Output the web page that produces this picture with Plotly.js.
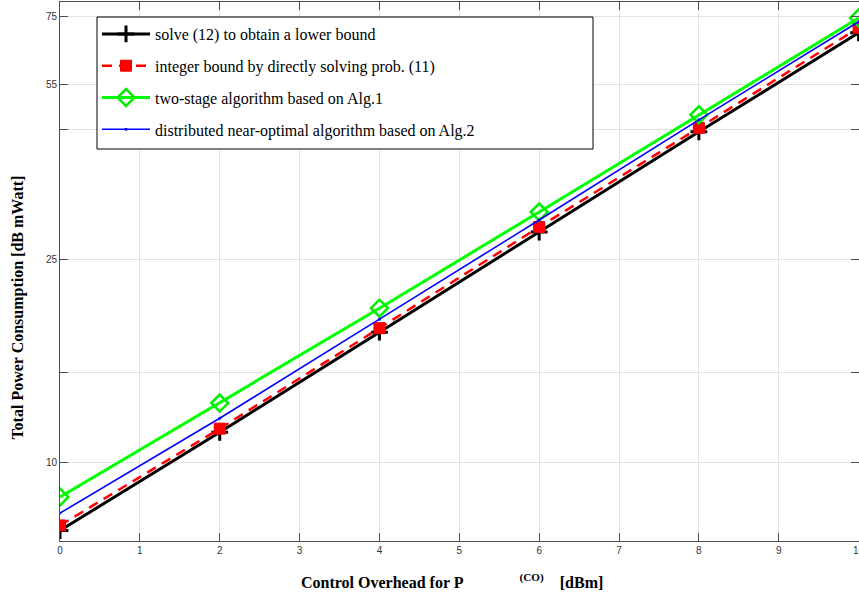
<!DOCTYPE html>
<html>
<head>
<meta charset="utf-8">
<script src="https://cdn.plot.ly/plotly-3.0.1.min.js"></script>
<style>
html,body{margin:0;padding:0;background:#fff;}
#chart{width:859px;height:596px;}
</style>
</head>
<body>
<div id="chart"></div>
<script>
// Data
const overhead = [0, 2, 4, 6, 8, 10];
const lowerBound = [7.34, 11.44, 17.99, 28.29, 44.5, 69.6];
const integerBound = [7.51, 11.63, 18.32, 28.93, 45.3, 71.2];
const twoStage = [8.54, 13.06, 20.05, 30.96, 48.04, 74.4];
const distributed = [7.94, 12.19, 19.08, 29.86, 46.96, 73.17];

const seriesNames = [
  'solve (12) to obtain a lower bound',
  'integer bound by directly solving prob. (11)',
  'two-stage algorithm based on Alg.1',
  'distributed near-optimal algorithm based on Alg.2'
];
const yTickVals = [10, 25, 55, 75];
const yTickText = ['10', '25', '55', '75'];
const yMinorVals = [15, 45];
const xTickVals = [0, 1, 2, 3, 4, 5, 6, 7, 8, 9, 10];

const traces = [
  {
    x: overhead, y: lowerBound, name: seriesNames[0], legendgroup: 'a',
    mode: 'lines+markers',
    line: {color: '#000000', width: 3},
    marker: {symbol: 'cross-thin', size: 12, color: '#000000', line: {color: '#000000', width: 3}}
  },
  {
    x: overhead, y: integerBound, name: seriesNames[1], legendgroup: 'b',
    mode: 'lines+markers',
    line: {color: '#ff0000', width: 2.5, dash: '10px,7px'},
    marker: {symbol: 'square', size: 11, color: '#ff0000', line: {color: '#ee0000', width: 1}}
  },
  {
    x: overhead, y: twoStage, name: seriesNames[2], legendgroup: 'c',
    mode: 'lines+markers',
    line: {color: '#00ff00', width: 3},
    marker: {symbol: 'diamond-open', size: 13, color: '#00ee00', line: {color: '#00ee00', width: 2.5}}
  },
  {
    x: overhead, y: distributed, name: seriesNames[3], legendgroup: 'd',
    mode: 'lines+markers',
    line: {color: '#0000ff', width: 1.6},
    marker: {symbol: 'circle', size: 3, color: '#0000ff'}
  }
];

const axisCommon = {
  showline: true,
  linecolor: '#4d4d4d',
  linewidth: 1,
  mirror: 'ticks',
  ticks: 'inside',
  ticklen: 8,
  tickwidth: 1,
  tickcolor: '#4d4d4d',
  showgrid: true,
  gridcolor: '#e3e3e3',
  gridwidth: 1,
  zeroline: false,
  tickfont: {family: 'Liberation Sans, Arial, sans-serif', size: 10, color: '#333333'}
};

// legend box edges in pixels -> paper fractions
const plotL = 60, plotW = 799, plotB = 541, plotH = 539;

const layout = {
  width: 859,
  height: 596,
  margin: {l: 60, r: 0, t: 2, b: 55},
  paper_bgcolor: '#ffffff',
  plot_bgcolor: '#ffffff',
  showlegend: true,
  xaxis: Object.assign({}, axisCommon, {
    type: 'linear',
    range: [0, 10.005],
    tickvals: xTickVals,
    ticktext: xTickVals.map(String),
    ticklabeloverflow: 'allow'
  }),
  yaxis: Object.assign({}, axisCommon, {
    type: 'log',
    range: [Math.log10(7), Math.log10(80)],
    tickvals: yTickVals,
    ticktext: yTickText,
    minor: {
      tickvals: yMinorVals,
      ticks: 'inside',
      ticklen: 8,
      tickcolor: '#4d4d4d',
      showgrid: true,
      gridcolor: '#e3e3e3',
      gridwidth: 1
    }
  }),
  shapes: [
    {
      type: 'rect', xref: 'paper', yref: 'paper', layer: 'above',
      x0: (97 - plotL) / plotW, x1: (593 - plotL) / plotW,
      y0: (plotB - 149) / plotH, y1: (plotB - 17) / plotH,
      fillcolor: '#ffffff', line: {color: '#000000', width: 1}
    }
  ],
  legend: {
    x: (97 - plotL) / plotW, y: (plotB - 17) / plotH, xanchor: 'left', yanchor: 'top',
    bgcolor: 'rgba(0,0,0,0)',
    borderwidth: 0,
    font: {family: 'Liberation Serif, Times New Roman, serif', size: 16, color: '#000000'},
    tracegroupgap: 8,
    itemwidth: 48
  },
  annotations: [
    {
      xref: 'paper', yref: 'paper', x: -0.0526, y: 0.433,
      xanchor: 'center', yanchor: 'middle', textangle: -90, showarrow: false,
      text: '<b>Total Power Consumption [dB mWatt]</b>',
      font: {family: 'Liberation Serif, Times New Roman, serif', size: 16, color: '#000000'}
    },
    {
      xref: 'paper', yref: 'paper', x: 0.4906, y: -0.0742,
      xanchor: 'center', yanchor: 'middle', showarrow: false,
      text: '<b>Control Overhead for P' + '\u00a0'.repeat(14) + '<sup>(CO)</sup>' + '\u00a0'.repeat(4) + '[dBm]</b>',
      font: {family: 'Liberation Serif, Times New Roman, serif', size: 16, color: '#000000'}
    }
  ]
};

Plotly.newPlot('chart', traces, layout, {displayModeBar: false, staticPlot: true});
</script>
</body>
</html>
